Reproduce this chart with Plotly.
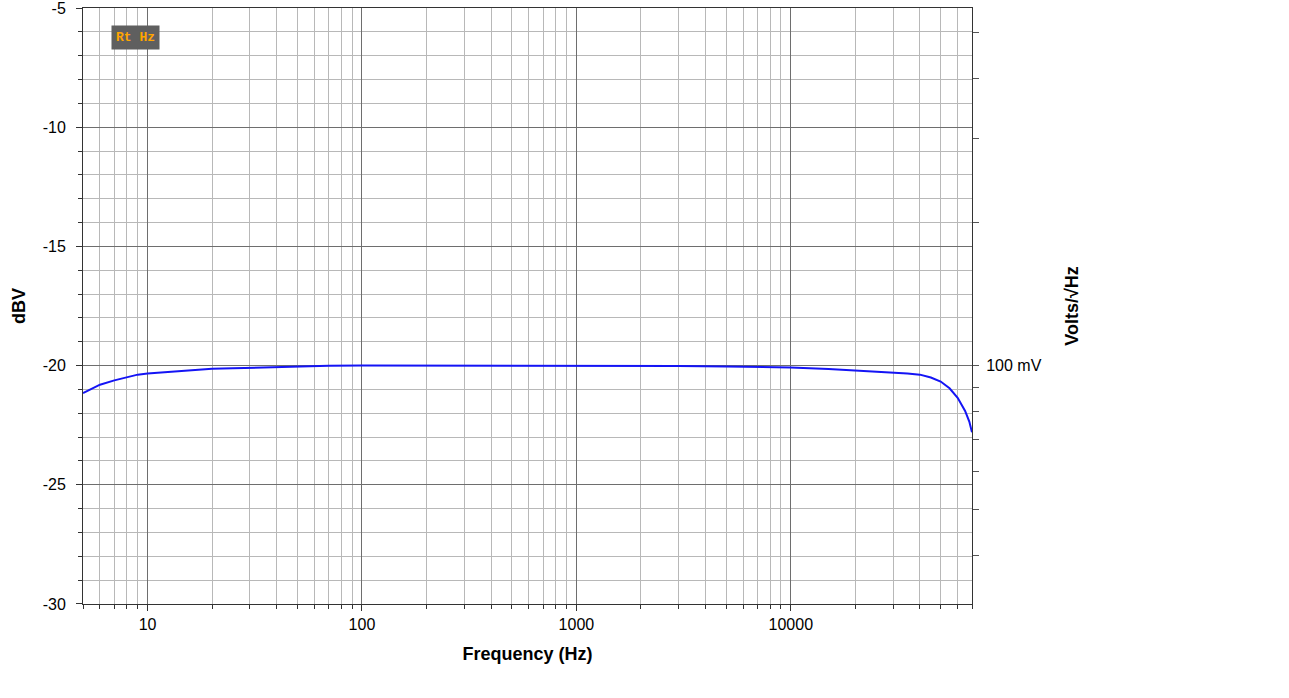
import numpy as np
import plotly.graph_objects as go

# frequency response
freq_hz = [5, 6, 7, 8, 9, 10, 12, 15, 20, 25, 30, 40, 50, 70, 100, 200, 500,
           1000, 2000, 3000, 5000, 7000, 10000, 15000, 20000, 25000, 30000,
           35000, 40000, 45000, 50000, 55000, 60000, 65000, 68000, 70000]
level_dbv = [-21.15, -20.8, -20.62, -20.48, -20.38, -20.33, -20.27, -20.2,
             -20.13, -20.11, -20.09, -20.05, -20.03, -20.01, -20.0, -20.0,
             -20.0, -20.0, -20.0, -20.02, -20.04, -20.06, -20.08, -20.14,
             -20.2, -20.24, -20.28, -20.33, -20.38, -20.5, -20.67, -20.95,
             -21.35, -21.9, -22.35, -22.8]

x_major = [10, 100, 1000, 10000]
x_minor = [m * 10 ** d for d in range(0, 5) for m in range(2, 10)
           if 5 <= m * 10 ** d <= 70000]
y_major = [-5, -10, -15, -20, -25, -30]
y_minor = list(range(-30, -4))

volt_ticks = [0.04, 0.05, 0.06, 0.07, 0.08, 0.09, 0.1, 0.2, 0.3, 0.4, 0.5]
volt_labels = ["" if v != 0.1 else "100 mV" for v in volt_ticks]

major_grid = "#6e6e6e"
minor_grid = "#b8b8b8"
font = "Liberation Sans, Arial, sans-serif"

fig = go.Figure()
fig.add_trace(go.Scatter(x=freq_hz, y=level_dbv, mode="lines",
                         line=dict(color="#1414f5", width=2),
                         showlegend=False, hoverinfo="skip"))
# invisible trace to activate the right-hand volts axis
fig.add_trace(go.Scatter(x=[freq_hz[0]], y=[0.1], yaxis="y2", mode="markers",
                         marker=dict(opacity=0), showlegend=False,
                         hoverinfo="skip"))

fig.update_layout(
    width=1289, height=698,
    margin=dict(l=83, r=317, t=8, b=94),
    paper_bgcolor="white", plot_bgcolor="white",
    font=dict(family=font, size=16, color="black"),
    xaxis=dict(
        type="log", range=[np.log10(5), np.log10(70000)],
        tickvals=x_major, ticktext=[str(v) for v in x_major],
        showgrid=True, gridcolor=major_grid, gridwidth=1,
        ticks="outside", ticklen=6, tickcolor="#333",
        minor=dict(tickvals=x_minor, showgrid=True, gridcolor=minor_grid,
                   ticks="outside", ticklen=4, tickcolor="#333"),
        showline=True, linecolor="#333", linewidth=1, mirror=True,
        zeroline=False, automargin=False,
        title=dict(text="<b>Frequency (Hz)</b>", font=dict(size=18),
                   standoff=15),
    ),
    yaxis=dict(
        range=[-30.001, -4.999], tickvals=y_major,
        ticktext=[str(v) for v in y_major], ticklabeloverflow="allow",
        ticklabelstandoff=7,
        showgrid=True, gridcolor=major_grid, gridwidth=1,
        ticks="outside", ticklen=6, tickcolor="#333",
        minor=dict(tickvals=y_minor, showgrid=True, gridcolor=minor_grid,
                   ticks="outside", ticklen=4, tickcolor="#333"),
        showline=True, linecolor="#333", linewidth=1, mirror=True,
        zeroline=False, automargin=False,
        title=dict(text="<b>dBV</b>", font=dict(size=18), standoff=12),
    ),
    yaxis2=dict(
        type="log", overlaying="y", side="right",
        range=[-1.5, -0.25],
        tickvals=volt_ticks, ticktext=volt_labels,
        ticklabelstandoff=4,
        showgrid=False, zeroline=False, automargin=False,
        ticks="outside", ticklen=6, tickcolor="#555",
        title=dict(text="<b>Volts/√Hz</b>", font=dict(size=18), standoff=24),
    ),
)

fig.add_annotation(
    xref="paper", yref="paper", x=0.031, y=0.951, xanchor="left",
    yanchor="middle", showarrow=False,
    text="<b>Rt Hz</b>", bgcolor="#5f5f5f", borderpad=4,
    font=dict(family="Liberation Mono, Courier New, monospace", size=13,
              color="#ffa500"),
)

# page body margin would push the chart off the window origin
fig.write_html("out.html", config={"displayModeBar": False},
               post_script="document.body.style.margin='0';")
